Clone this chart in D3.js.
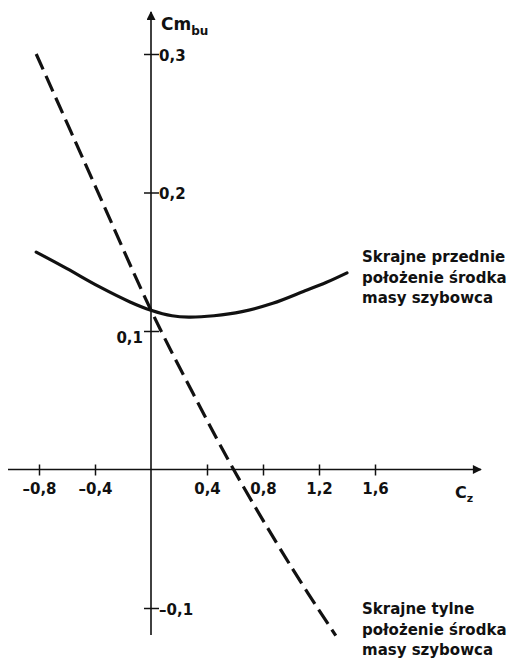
<!DOCTYPE html>
<html>
<head>
<meta charset="utf-8">
<script src="https://cdn.jsdelivr.net/npm/d3@7"></script>
<style>
  html, body { margin: 0; padding: 0; background: #fff; }
  svg { display: block; }
  text { font-family: "DejaVu Sans", sans-serif; fill: #111; }
</style>
</head>
<body>
<script>
// Pitching-moment coefficient of the glider vs lift coefficient
const xTicks = [-0.8, -0.4, 0.4, 0.8, 1.2, 1.6];
const xTickLabels = ["\u20130,8", "\u20130,4", "0,4", "0,8", "1,2", "1,6"];
const yTicks = [-0.1, 0.1, 0.2, 0.3];
const yTickLabels = ["\u20130,1", "0,1", "0,2", "0,3"];

// forward-most centre of gravity (solid curve)
const frontCz = [-0.82, -0.6, -0.37, -0.15, 0, 0.15, 0.27, 0.45, 0.65, 0.87, 1.1, 1.25, 1.40];
const frontCm = [0.157, 0.145, 0.132, 0.121, 0.115, 0.111, 0.110, 0.111, 0.114, 0.120, 0.129, 0.135, 0.142];

// aft-most centre of gravity (dashed curve)
const rearCz = [-0.82, -0.4, 0, 0.3, 0.59, 1.0, 1.32];
const rearCm = [0.300, 0.205, 0.115, 0.055, 0.0, -0.070, -0.120];

const frontLabel = ["Skrajne przednie", "położenie środka", "masy szybowca"];
const rearLabel = ["Skrajne tylne", "położenie środka", "masy szybowca"];

const W = 518, H = 660;
const svg = d3.select("body").append("svg").attr("width", W).attr("height", H);

const x = d3.scaleLinear().domain([-0.8, 1.6]).range([39, 375]);
const y = d3.scaleLinear().domain([-0.1, 0.3]).range([608, 54]);

const ink = "#111";
const font = "'DejaVu Sans', sans-serif";

// arrow marker for both axes
svg.append("defs").append("marker")
  .attr("id", "arrow")
  .attr("viewBox", "0 0 10 10")
  .attr("refX", 9).attr("refY", 5)
  .attr("markerUnits", "userSpaceOnUse")
  .attr("markerWidth", 16).attr("markerHeight", 9)
  .attr("orient", "auto")
  .append("path").attr("d", "M0,0 L10,5 L0,10 Z").attr("fill", ink);

// horizontal axis
const x0 = x(0), y0 = y(0);
svg.append("line")
  .attr("x1", 8).attr("x2", 481).attr("y1", y0).attr("y2", y0)
  .attr("stroke", ink).attr("stroke-width", 1.6)
  .attr("marker-end", "url(#arrow)");

const xAxis = svg.append("g")
  .attr("transform", `translate(0,${y0})`)
  .call(d3.axisBottom(x).tickValues(xTicks).tickSize(6).tickFormat((d, i) => xTickLabels[i]));
xAxis.select(".domain").remove();
xAxis.selectAll(".tick line").attr("y1", -5).attr("y2", 6).attr("stroke", ink).attr("stroke-width", 1.5);
xAxis.selectAll(".tick text")
  .attr("y", 14).attr("dy", "0.71em")
  .style("font-size", "15px").style("font-weight", "bold")
  .style("font-family", font)
  .attr("fill", ink);

// vertical axis
svg.append("line")
  .attr("x1", x0).attr("x2", x0).attr("y1", 635).attr("y2", 12)
  .attr("stroke", ink).attr("stroke-width", 1.6)
  .attr("marker-end", "url(#arrow)");

const yAxis = svg.append("g")
  .attr("transform", `translate(${x0},0)`)
  .call(d3.axisRight(y).tickValues(yTicks).tickSize(7).tickFormat((d, i) => yTickLabels[i]));
yAxis.select(".domain").remove();
yAxis.selectAll(".tick line").attr("x1", -7).attr("x2", 8).attr("stroke", ink).attr("stroke-width", 1.5);
yAxis.selectAll(".tick text")
  .attr("x", 8).attr("dy", "0.42em")
  .style("font-size", "15px").style("font-weight", "bold")
  .style("font-family", font)
  .attr("fill", ink);
// the 0,1 label sits on the left side of the axis
yAxis.selectAll(".tick text").filter(d => d === 0.1)
  .attr("x", -8).attr("text-anchor", "end").attr("dy", "0.75em");

// axis titles
const yTitle = svg.append("text").attr("x", 161).attr("y", 30)
  .style("font-size", "17px").style("font-weight", "bold");
yTitle.append("tspan").text("Cm");
yTitle.append("tspan").attr("dy", 5).style("font-size", "12px").text("bu");

const xTitle = svg.append("text").attr("x", 455).attr("y", 498)
  .style("font-size", "16px").style("font-weight", "bold");
xTitle.append("tspan").text("C");
xTitle.append("tspan").attr("dy", 4).style("font-size", "11px").text("z");

// curves
const line = d3.line().x(d => x(d[0])).y(d => y(d[1])).curve(d3.curveCatmullRom.alpha(0.5));

svg.append("path")
  .datum(d3.zip(frontCz, frontCm))
  .attr("d", line)
  .attr("fill", "none").attr("stroke", ink).attr("stroke-width", 3.2)
  .attr("stroke-linecap", "round");

svg.append("path")
  .datum(d3.zip(rearCz, rearCm))
  .attr("d", line)
  .attr("fill", "none").attr("stroke", ink).attr("stroke-width", 3.2)
  .attr("stroke-dasharray", "17 7");

// side annotations
function annotate(lines, top) {
  const t = svg.append("text").attr("x", 362).attr("y", top)
    .style("font-size", "15px").style("font-weight", "bold");
  lines.forEach((s, i) => {
    t.append("tspan").attr("x", 362).attr("dy", i === 0 ? 0 : 20.5).text(s);
  });
}
annotate(frontLabel, 262);
annotate(rearLabel, 614);
</script>
</body>
</html>
